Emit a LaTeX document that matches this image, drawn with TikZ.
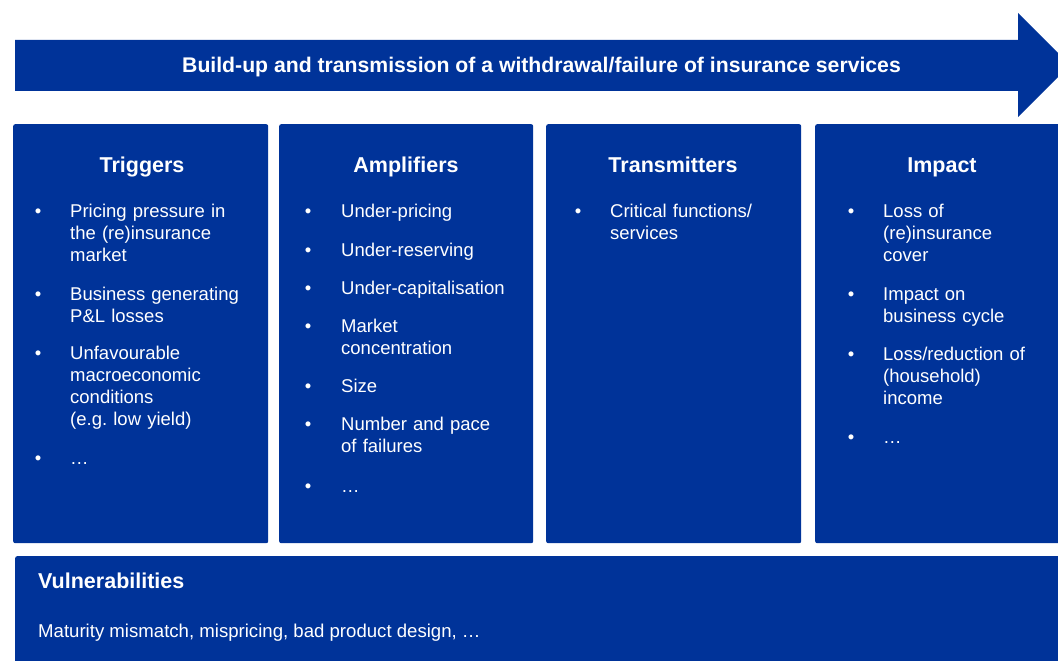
\documentclass[tikz,border=0pt]{standalone}
\usepackage{fontspec}
\setmainfont{Liberation Sans}
\definecolor{ecb}{RGB}{0,51,153}
\tikzset{
  panel/.style={fill=ecb, draw=none, rounded corners=2pt, anchor=north west, inner sep=0pt},
  head/.style={text=white, font=\bfseries\fontsize{21.5}{24}\selectfont, inner sep=0pt, anchor=base},
  itemtext/.style={text=white, font=\fontsize{18.5}{22}\selectfont, inner sep=0pt, anchor=base west, text width=200pt, align=left},
  bul/.style={text=white, font=\fontsize{18.5}{22}\selectfont, inner sep=0pt, anchor=base},
}
\newcommand\myitem[5]{%
  \node[bul] (#1b) at (#2,#4) {•};
  \node[itemtext] (#1) at (#3,#4) {#5};
}
\begin{document}
\frenchspacing
\begin{tikzpicture}[x=1pt,y=-1pt]
\useasboundingbox (0,0) rectangle (1058,661);
\clip (0,0) rectangle (1058,661);
% banner arrow
\fill[ecb] (15,40) -- (1018,40) -- (1018,13) -- (1070,65) -- (1018,117) -- (1018,91) -- (15,91) -- cycle;
\node[text=white, font=\bfseries\fontsize{21.2}{24}\selectfont, inner sep=0pt, anchor=base] (banner) at (541.5,73) {Build-up and transmission of a withdrawal/failure of insurance services};
% panels
\node[panel, minimum width=255pt, minimum height=419pt] (trig) at (13,124) {};
\node[panel, minimum width=254pt, minimum height=419pt] (ampl) at (279,124) {};
\node[panel, minimum width=255pt, minimum height=419pt] (trans) at (546,124) {};
\node[panel, minimum width=260pt, minimum height=419pt] (imp) at (815,124) {};
\node[panel, minimum width=1060pt, minimum height=140pt] (vuln) at (15,556) {};
% headings
\node[head] (trigH) at (142,172) {Triggers};
\node[head] (amplH) at (406,172) {Amplifiers};
\node[head] (transH) at (673,172) {Transmitters};
\node[head] (impH) at (942,172) {Impact};
% triggers
\myitem{t1}{38}{70}{217}{Pricing pressure in\\the (re)insurance\\market}
\myitem{t2}{38}{70}{300}{Business generating\\P\&L losses}
\myitem{t3}{38}{70}{359}{Unfavourable\\macroeconomic\\conditions\\(e.g. low yield)}
\myitem{t4}{38}{70}{464}{…}
% amplifiers
\myitem{a1}{308}{341}{217}{Under-pricing}
\myitem{a2}{308}{341}{256}{Under-reserving}
\myitem{a3}{308}{341}{294}{Under-capitalisation}
\myitem{a4}{308}{341}{332}{Market\\concentration}
\myitem{a5}{308}{341}{392}{Size}
\myitem{a6}{308}{341}{430}{Number and pace\\of failures}
\myitem{a7}{308}{341}{492}{…}
% transmitters
\myitem{m1}{578}{610}{217}{Critical functions/\\services}
% impact
\myitem{i1}{851}{883}{217}{Loss of\\(re)insurance\\cover}
\myitem{i2}{851}{883}{300}{Impact on\\business cycle}
\myitem{i3}{851}{883}{360}{Loss/reduction of\\(household)\\income}
\myitem{i4}{851}{883}{443}{…}
% vulnerabilities
\node[text=white, font=\bfseries\fontsize{21.5}{24}\selectfont, inner sep=0pt, anchor=base west] (vulnH) at (38,588) {Vulnerabilities};
\node[text=white, font=\fontsize{18.6}{22}\selectfont, inner sep=0pt, anchor=base west] (vulnT) at (38,637) {Maturity mismatch, mispricing, bad product design, …};
\end{tikzpicture}
\end{document}
